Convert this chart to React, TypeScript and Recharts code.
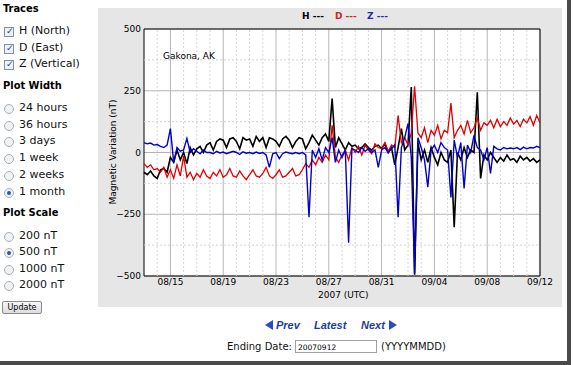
import { LineChart, Line, XAxis, YAxis, CartesianGrid, ReferenceLine, ReferenceArea } from 'recharts'

// x = days since 08/13 00:00 UTC, sampled every 6 hours
const tickDays = [2, 6, 10, 14, 18, 22, 26, 30]
const tickLabels = ['08/15', '08/19', '08/23', '08/27', '08/31', '09/04', '09/08', '09/12']
const minorDays = [1, 3, 4, 5, 7, 8, 9, 11, 12, 13, 15, 16, 17, 19, 20, 21, 23, 24, 25, 27, 28, 29]
const yTicks = [-500, -250, 0, 250, 500]
const minorValues = [-375, -125, 125, 375]

const hValues = [
  -80, -90, -75, -95, -105, -70, -65, -80, -20, -40, 10, -30, 0, -45, 20, -10,
  15, 25, 0, 30, 40, 10, 45, 55, 50, 20, 55, 60, 45, 15, 60, 50,
  55, 25, 65, 45, 60, 20, 60, 55, 45, 25, 55, 65, 50, 20, 45, 60,
  55, 15, 40, 70, 50, 30, 60, 75, 45, 218, 20, 60, 35, 10, 40, 25,
  30, 15, 20, 35, 20, 10, 25, 30, 15, 35, 0, 20, -50, 20, 97, 10,
  30, 265, -495, 40, -30, 10, -40, 20, -20, -50, 0, -30, -40, 10, -302, 0,
  -30, 20, -20, 10, 0, 244, -105, -10, -30, 0, -20, -40, -20, -35, -10, -30,
  -25, -40, -15, -30, -20, -35, -25, -40, -30,
]

const dValues = [
  -45, -60, -50, -70, -65, -80, -60, -100, -70, -105, -50, -95, -15, -100, -80, -110,
  -85, -100, -70, -95, -105, -80, -95, -70, -100, -90, -65, -95, -100, -75, -95, -110,
  -90, -70, -95, -100, -85, -60, -95, -105, -90, -70, -100, -95, -80, -65, -95, -90,
  -70, -45, -60, -30, -50, -20, -40, -10, -30, 110, -20, -40, -10, 10, -30, 20,
  0, 25, -10, 30, 10, -5, 35, 20, 15, 40, 5, 30, 20, 150, 40, 60,
  30, 80, 268, 80, 60, 100, 40, 90, 70, 110, 55, 90, 80, 200, 60, 90,
  110, 75, 130, 80, 100, 140, 90, 120, 110, 130, 100, 135, 105, 125, 110, 140,
  115, 130, 105, 135, 120, 145, 110, 150, 120,
]

const zValues = [
  40, 35, 38, 30, 32, 25, 20, 30, 97, -40, 20, 5, 10, 57, 0, 15,
  5, -5, 10, 0, 0, -5, 5, -2, 2, -5, 0, 5, 0, -8, 3, -3,
  0, -5, 2, -4, 0, -10, -60, -5, 0, -25, -5, 2, -2, -5, 0, -5,
  0, -10, -262, 10, -20, 15, -30, 20, 0, 60, -40, 10, -20, 10, -365, 15,
  10, 0, 20, 5, 15, 0, 10, -60, 10, 20, 0, 15, 30, -262, 20, 60,
  117, -20, -490, 60, 20, -30, -140, 10, 30, 0, 40, 20, 10, -182, 50, -20,
  40, -146, 30, 0, 69, 20, 10, -30, 20, -85, 25, 15, 10, 20, 15, 18,
  15, 20, 12, 22, 15, 20, 18, 25, 20,
]

const traceItems = ['H (North)', 'D (East)', 'Z (Vertical)']
const widthItems = ['24 hours', '36 hours', '3 days', '1 week', '2 weeks', '1 month']
const scaleItems = ['200 nT', '500 nT', '1000 nT', '2000 nT']
const widthSelected = '1 month'
const scaleSelected = '500 nT'

const data = hValues.map((h, i) => ({ t: i / 4, h, d: dValues[i], z: zValues[i] }))

const sideFont = '"DejaVu Sans", Verdana, sans-serif'
const headFont = '"DejaVu Sans Condensed", "DejaVu Sans", sans-serif'

function Check({ top }: { top: number }) {
  return (
    <div style={{ position: 'absolute', left: 4, top, width: 8, height: 8, border: '1px solid #8090a8', background: '#eef2f8' }}>
      <div style={{ position: 'absolute', left: 1, top: -3, fontSize: 9, color: '#2a3f80', lineHeight: '12px' }}>✓</div>
    </div>
  )
}

function Radio({ top, on }: { top: number; on: boolean }) {
  return (
    <div style={{ position: 'absolute', left: 4, top, width: 8, height: 8, borderRadius: 5, border: '1px solid #a8b0b8', background: '#f0f2f4' }}>
      {on && <div style={{ position: 'absolute', left: 2, top: 2, width: 4, height: 4, borderRadius: 2, background: '#2a58a8' }} />}
    </div>
  )
}

function Sidebar() {
  const head = (text: string, y: number) => (
    <div style={{ position: 'absolute', left: 3, top: y - 7, fontFamily: headFont, fontWeight: 'bold', fontSize: 11, lineHeight: '14px', color: '#000' }}>{text}</div>
  )
  const item = (text: string, y: number) => (
    <div key={text} style={{ position: 'absolute', left: 19, top: y - 7, fontFamily: sideFont, fontSize: 11, lineHeight: '14px', color: '#111' }}>{text}</div>
  )
  return (
    <>
      {head('Traces', 9)}
      {traceItems.map((t, i) => (
        <div key={t}>
          <Check top={27 + i * 16.5} />
          {item(t, 31 + i * 16.5)}
        </div>
      ))}
      {head('Plot Width', 86)}
      {widthItems.map((t, i) => (
        <div key={t}>
          <Radio top={104 + i * 16.7} on={t === widthSelected} />
          {item(t, 108 + i * 16.7)}
        </div>
      ))}
      {head('Plot Scale', 213)}
      {scaleItems.map((t, i) => (
        <div key={t}>
          <Radio top={232 + i * 16.4} on={t === scaleSelected} />
          {item(t, 236 + i * 16.4)}
        </div>
      ))}
      <div style={{ position: 'absolute', left: 2, top: 301, width: 38, height: 11, border: '1px solid #8a8a8a', borderRadius: 2, background: 'linear-gradient(#f8f8f8, #dcdcdc)', fontFamily: sideFont, fontSize: 8, lineHeight: '11px', textAlign: 'center', color: '#000' }}>Update</div>
    </>
  )
}

export default function App() {
  const chartText = { position: 'absolute' as const, fontFamily: '"DejaVu Sans", sans-serif', fontSize: 9, lineHeight: '11px', whiteSpace: 'nowrap' as const }
  const nav = { position: 'absolute' as const, top: 319, fontFamily: '"Liberation Sans", Arial, sans-serif', fontSize: 11, fontWeight: 'bold' as const, fontStyle: 'italic' as const, color: '#1e3c9e', lineHeight: '13px' }
  return (
    <div style={{ position: 'absolute', left: 0, top: 0, width: 574, height: 365, background: '#fff', overflow: 'hidden' }}>
      <Sidebar />
      <div style={{ position: 'absolute', left: 98, top: 8, width: 464, height: 299, background: '#e6e6e6' }} />
      <div style={{ position: 'absolute', left: 98, top: 8 }}>
        <LineChart width={464} height={299} data={data} margin={{ top: 21, right: 22, bottom: 0, left: 0 }}>
          <CartesianGrid fill="#fff" stroke="#b4b4b4" horizontalValues={yTicks} verticalValues={tickDays} />
          {minorDays.map((d) => (
            <ReferenceLine key={'x' + d} x={d} stroke="#d4d4d4" strokeDasharray="2 2" />
          ))}
          {minorValues.map((v) => (
            <ReferenceLine key={'y' + v} y={v} stroke="#d4d4d4" strokeDasharray="2 2" />
          ))}
          <XAxis
            dataKey="t"
            type="number"
            domain={[0, 30]}
            ticks={tickDays}
            tickFormatter={(v) => tickLabels[tickDays.indexOf(v)] ?? ''}
            height={31}
            axisLine={false}
            tickLine={false}
            tickSize={0}
            tickMargin={3}
            interval={0}
            tick={{ fontSize: 9, fill: '#000', fontFamily: '"DejaVu Sans", sans-serif' }}
          />
          <YAxis
            type="number"
            domain={[-500, 500]}
            ticks={yTicks}
            width={46}
            axisLine={false}
            tickLine={false}
            tickSize={0}
            tickMargin={3}
            interval={0}
            allowDataOverflow
            tickFormatter={(v) => String(v).replace('-', '\u2212')}
            tick={{ fontSize: 9, fill: '#000', fontFamily: '"DejaVu Sans", sans-serif' }}
          />
          <Line type="linear" dataKey="h" stroke="#000" strokeWidth={1.6} dot={false} isAnimationActive={false} />
          <Line type="linear" dataKey="d" stroke="#e00000" strokeWidth={1.3} dot={false} isAnimationActive={false} />
          <Line type="linear" dataKey="z" stroke="#0000c8" strokeWidth={1.4} dot={false} isAnimationActive={false} />
          <ReferenceArea x1={0} x2={30} y1={-500} y2={500} fill="none" stroke="#000" strokeWidth={1} />
        </LineChart>
      </div>
      <div style={{ ...chartText, left: 302, top: 11, fontWeight: 'bold', color: '#000' }}>H ---</div>
      <div style={{ ...chartText, left: 335, top: 11, fontWeight: 'bold', color: '#d42020' }}>D ---</div>
      <div style={{ ...chartText, left: 367, top: 11, fontWeight: 'bold', color: '#2a2aa8' }}>Z ---</div>
      <div style={{ ...chartText, left: 163, top: 51 }}>Gakona, AK</div>
      <div style={{ ...chartText, left: 318, top: 290 }}>2007 (UTC)</div>
      <div style={{ ...chartText, left: 113, top: 152, transform: 'translate(-50%, -50%) rotate(-90deg)' }}>Magnetic Variation (nT)</div>
      <div style={{ position: 'absolute', left: 265, top: 320, width: 0, height: 0, borderTop: '5px solid transparent', borderBottom: '5px solid transparent', borderRight: '8px solid #2a4cc0' }} />
      <div style={{ ...nav, left: 276 }}>Prev</div>
      <div style={{ ...nav, left: 314 }}>Latest</div>
      <div style={{ ...nav, left: 361 }}>Next</div>
      <div style={{ position: 'absolute', left: 389, top: 320, width: 0, height: 0, borderTop: '5px solid transparent', borderBottom: '5px solid transparent', borderLeft: '8px solid #2a4cc0' }} />
      <div style={{ position: 'absolute', left: 227, top: 340, fontFamily: sideFont, fontSize: 10, lineHeight: '13px', color: '#111' }}>Ending Date:</div>
      <div style={{ position: 'absolute', left: 295, top: 340, width: 82, height: 13, border: '1px solid #a0a0a0', background: '#fff', fontFamily: sideFont, fontSize: 7.5, lineHeight: '13px', paddingLeft: 2, boxSizing: 'border-box', color: '#000' }}>20070912</div>
      <div style={{ position: 'absolute', left: 381, top: 340, fontFamily: sideFont, fontSize: 10, lineHeight: '13px', color: '#111' }}>(YYYYMMDD)</div>
      <div style={{ position: 'absolute', left: 567, top: 0, width: 4, height: 365, background: '#4a4a4a' }} />
      <div style={{ position: 'absolute', left: 0, top: 361, width: 571, height: 4, background: '#4a4a4a' }} />
    </div>
  )
}
